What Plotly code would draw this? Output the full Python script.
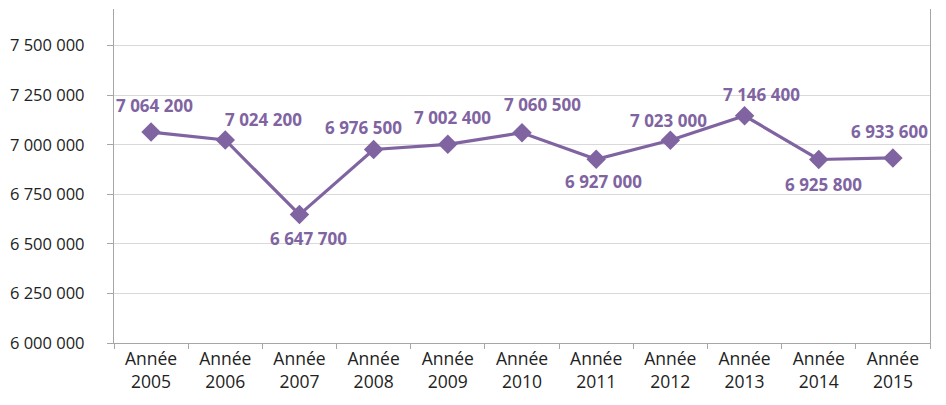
import plotly.graph_objects as go

years = ["2005", "2006", "2007", "2008", "2009", "2010", "2011", "2012", "2013", "2014", "2015"]
categories = ["Année<br>" + y for y in years]
values = [7064200, 7024200, 6647700, 6976500, 7002400, 7060500, 6927000, 7023000, 7146400, 6925800, 6933600]
y_ticks = [6000000, 6250000, 6500000, 6750000, 7000000, 7250000, 7500000]

# label offsets in pixels (dx, dy)
label_dx = [3, 38, 9, -10, 5, 20, 7, -2, 17, 5, -3]
label_dy = [27, 20, -24, 22, 27, 28, -22, 20, 21, -25, 26]

PURPLE = "#8064A2"
FONT = "Open Sans"

def fmt(v):
    return f"{v:,}".replace(",", " ")

fig = go.Figure()
fig.add_trace(go.Scatter(
    x=categories, y=values, mode="lines+markers",
    line=dict(color=PURPLE, width=3.2),
    marker=dict(symbol="diamond", size=15, color=PURPLE),
    hoverinfo="skip", showlegend=False,
))

for c, v, dx, dy in zip(categories, values, label_dx, label_dy):
    fig.add_annotation(
        x=c, y=v, text=fmt(v), showarrow=False,
        xshift=dx, yshift=dy, xanchor="center", yanchor="middle",
        font=dict(family=FONT, size=17, color=PURPLE, weight="bold"),
    )

fig.update_layout(
    width=946, height=405,
    margin=dict(l=106, r=24, t=1, b=70),
    paper_bgcolor="white", plot_bgcolor="white",
    separators=", ",
    font=dict(family=FONT, size=16.5, color="#222222"),
)
fig.update_xaxes(
    type="category", showgrid=False,
    showline=True, linecolor="#a6a6a6", linewidth=1.3,
    ticks="outside", tickson="boundaries", ticklen=5, tickcolor="#a6a6a6",
    tickfont=dict(family=FONT, size=17.5, color="#222222"),
    range=[-0.5, 10.5],
)
fig.update_yaxes(
    range=[6000000, 7685000],
    tickvals=y_ticks, ticktext=[fmt(t) for t in y_ticks],
    showgrid=True, gridcolor="#d9d9d9", gridwidth=1.2,
    showline=True, linecolor="#a6a6a6", linewidth=1.3, mirror=True,
    ticks="outside", ticklen=6, tickcolor="#a6a6a6",
    ticklabelstandoff=19,
    tickfont=dict(family=FONT, size=16.5, color="#222222"),
    zeroline=False,
)

fig.write_html("out.html")
